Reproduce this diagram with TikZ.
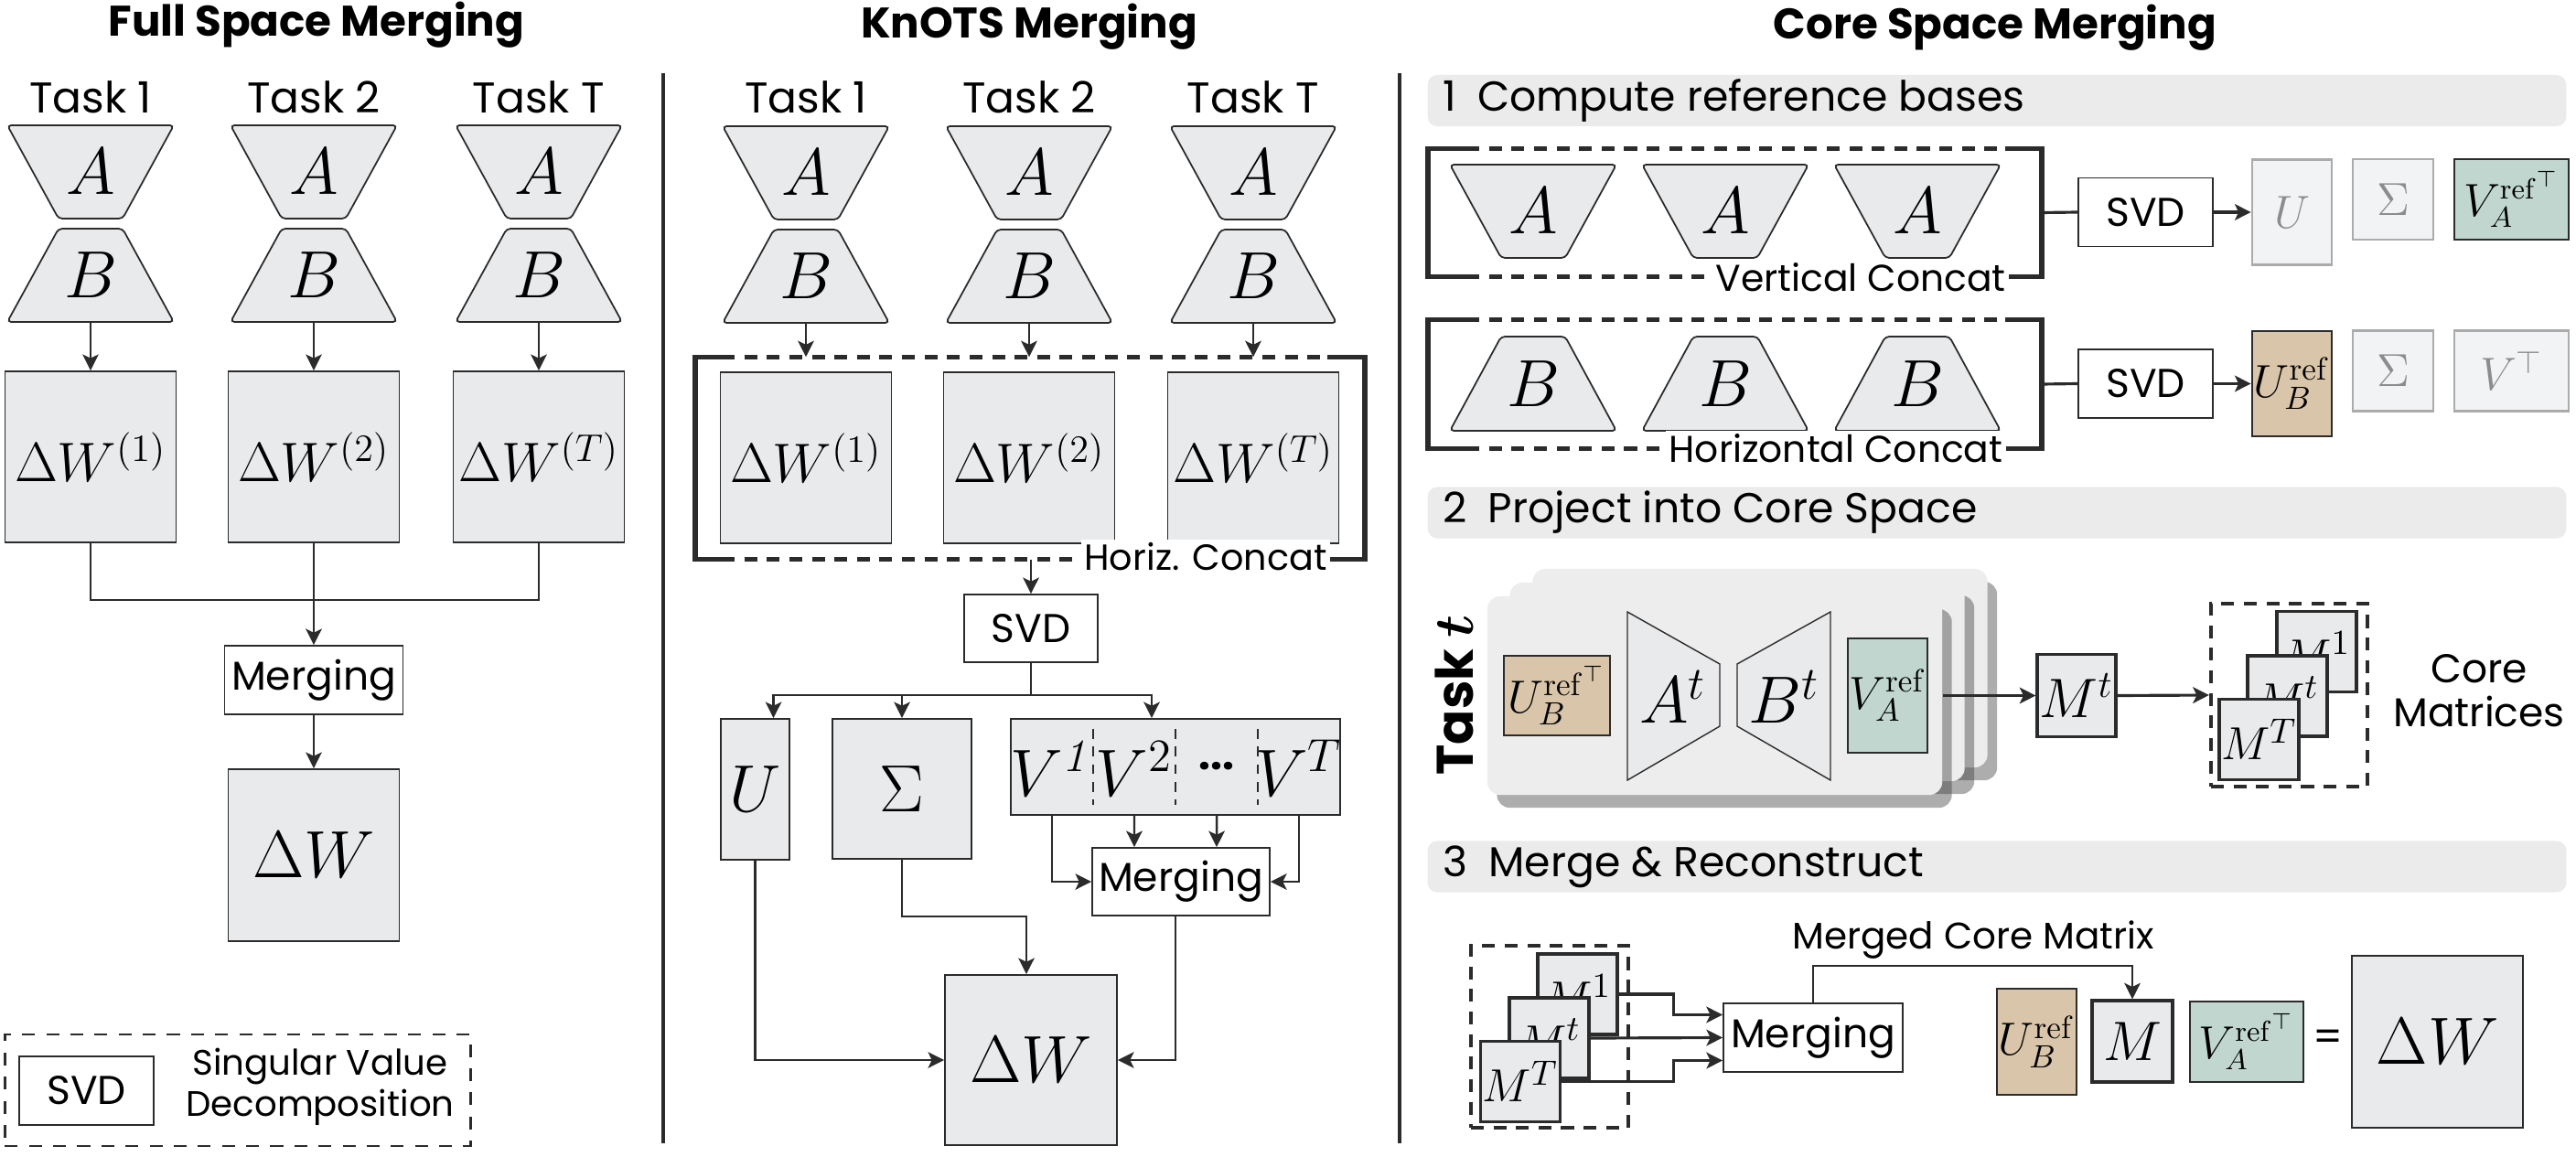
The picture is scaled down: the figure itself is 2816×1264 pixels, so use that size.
\documentclass[tikz,border=0pt]{standalone}
\usepackage{amsmath}
\usepackage{amssymb}
\usepackage[no-math]{fontspec}
\usepackage{tikz}
\usepackage{xcolor}
\usetikzlibrary{calc,arrows.meta,shadows}
\newfontfamily\pop{Poppins}

\definecolor{linec}{HTML}{2B2B2B}
\definecolor{matgray}{HTML}{E9EAEC}
\definecolor{tanc}{HTML}{D9C5A9}
\definecolor{greenc}{HTML}{C0D6CE}
\definecolor{fadefill}{HTML}{F2F3F5}
\definecolor{fadeline}{HTML}{ABABAB}
\definecolor{fadetext}{HTML}{8C8C8C}
\definecolor{headc}{HTML}{EBEBEB}
\definecolor{cardc}{HTML}{EDEDED}

\begin{document}
\begin{tikzpicture}[x=0.01cm,y=-0.01cm]
    % Styles for boxes and lines
    \tikzset{
      box/.style={rectangle, draw=linec, fill=matgray, line width=0.5pt, inner sep=0pt},
      opbox/.style={rectangle, draw=linec, fill=white, line width=0.5pt, inner sep=0pt, font=\pop\fontsize{12.5}{14}\selectfont},
      fadebox/.style={rectangle, draw=fadeline, fill=fadefill, text=fadetext, line width=0.8pt, inner sep=0pt},
      slot/.style={inner sep=0pt, minimum width=1.83cm, minimum height=1.02cm, font=\fontsize{20}{24}\selectfont},
      trap/.style={draw=linec, fill=matgray, line width=0.5pt, rounded corners=1.2pt},
      arrow/.style={line width=0.7pt, draw=linec, -{Stealth[length=5pt,width=5pt,inset=1.2pt]}},
      joinline/.style={line width=0.7pt, draw=linec},
      bracket/.style={line width=1.5pt, draw=linec},
      dashbracket/.style={line width=1.5pt, draw=linec, dash pattern=on 4pt off 3pt},
      coredash/.style={rectangle, draw=linec, line width=1.2pt, dash pattern=on 4pt off 3pt},
      legendbox/.style={rectangle, draw=linec, line width=0.8pt, dash pattern=on 4pt off 3.5pt},
      stackbox/.style={box, line width=0.9pt, minimum width=0.87cm, minimum height=0.88cm, font=\fontsize{15.5}{18}\selectfont},
      header/.style={rectangle, rounded corners=3pt, fill=headc, minimum width=12.44cm, minimum height=0.56cm},
      headtext/.style={anchor=west, inner sep=0pt, font=\pop\fontsize{13}{15}\selectfont},
      paneltitle/.style={font=\pop\bfseries\fontsize{13.3}{16}\selectfont},
      task/.style={font=\pop\fontsize{13.4}{16}\selectfont},
      note/.style={inner sep=1pt, align=center, font=\pop\fontsize{11}{12.8}\selectfont},
      wmath/.style={font=\fontsize{16.5}{19}\selectfont},
      bigmath/.style={font=\fontsize{20.5}{24}\selectfont},
      card/.style={rectangle, rounded corners=4pt, fill=cardc, minimum width=4.97cm, minimum height=2.17cm,
        drop shadow={shadow xshift=3pt, shadow yshift=-4pt, opacity=0.4, fill=black!80}}
    }

    \useasboundingbox (0,0) rectangle (2816,1264);

    % Panel separators
    \draw[line width=1pt, draw=linec] (725,80) -- (725,1250);
    \draw[line width=1pt, draw=linec] (1530,80) -- (1530,1250);

    % ---------------- Full Space Merging ----------------
    \node[paneltitle] (ftitle) at (346,27) {Full Space Merging};
    \foreach \px/\nm/\tk in {99/1/1,343/2/2,589/3/T}{
      \node[task] at (\px,106) {Task \tk};
      \draw[trap] (\px-91,137) -- (\px+91,137) -- (\px+35,239) -- (\px-35,239) -- cycle;
      \draw[trap] (\px-35,250) -- (\px+35,250) -- (\px+91,352) -- (\px-91,352) -- cycle;
      \node[slot] (FA\nm) at (\px,188) {$A$};
      \node[slot] (FB\nm) at (\px,301) {$B$};
      \node[box, wmath, minimum width=1.87cm, minimum height=1.87cm] (FW\nm) at (\px,499.5) {$\Delta W^{(\tk)}$};
      \draw[arrow] (FB\nm) -- (FW\nm);
    }
    \node[opbox, minimum width=1.95cm, minimum height=0.75cm] (fmerge) at (343,743.5) {Merging};
    \node[box, bigmath, minimum width=1.87cm, minimum height=1.88cm] (fdw) at (343,935) {$\Delta W$};
    \draw[joinline] (FW1.south) -- ++(0,62) -| (FW3.south);
    \draw[arrow] (FW2.south) -- (fmerge.north);
    \draw[arrow] (fmerge) -- (fdw);

    % Legend
    \node[legendbox, minimum width=5.09cm, minimum height=1.22cm] (legend) at (260,1192) {};
    \node[opbox, minimum width=1.47cm, minimum height=0.75cm] (lsvd) at (94.5,1192.5) {SVD};
    \node[note] (ltext) at (350,1188) {Singular Value\\Decomposition};

    % ---------------- KnOTS Merging ----------------
    \node[paneltitle] (ktitle) at (1125,29) {KnOTS Merging};
    \node[inner sep=0pt, minimum width=7.30cm, minimum height=2.20cm] (hc) at (1126,501) {};
    \foreach \px/\nm/\tk in {881/1/1,1125/2/2,1370/3/T}{
      \node[task] at (\px,106) {Task \tk};
      \draw[trap] (\px-91,138) -- (\px+91,138) -- (\px+35,240) -- (\px-35,240) -- cycle;
      \draw[trap] (\px-35,251) -- (\px+35,251) -- (\px+91,353) -- (\px-91,353) -- cycle;
      \node[slot] (MA\nm) at (\px,189) {$A$};
      \node[slot] (MB\nm) at (\px,302) {$B$};
      \node[box, wmath, minimum width=1.87cm, minimum height=1.87cm] (MW\nm) at (\px,500.5) {$\Delta W^{(\tk)}$};
      \draw[arrow] (MB\nm.south) -- (MB\nm.south |- hc.north);
    }
    \draw[bracket] ([xshift=0.29cm]hc.north west) -- (hc.north west) -- (hc.south west) -- ([xshift=0.29cm]hc.south west);
    \draw[bracket] ([xshift=-0.41cm]hc.north east) -- (hc.north east) -- (hc.south east) -- ([xshift=-0.41cm]hc.south east);
    \draw[dashbracket] ([xshift=0.29cm]hc.north west) -- ([xshift=-0.41cm]hc.north east);
    \draw[dashbracket] ([xshift=0.29cm]hc.south west) -- ([xshift=-0.41cm]hc.south east);
    \node[note, fill=white, font=\pop\fontsize{11.3}{13}\selectfont] (hclabel) at (1318,609) {Horiz. Concat};

    \node[opbox, minimum width=1.46cm, minimum height=0.74cm] (msvd) at (1127,687) {SVD};
    \draw[arrow] (msvd.north |- hc.south) -- (msvd.north);

    \node[box, bigmath, minimum width=0.75cm, minimum height=1.54cm] (mU) at (825.5,863) {$U$};
    \node[box, bigmath, minimum width=1.52cm, minimum height=1.53cm] (mS) at (986,862.5) {$\Sigma$};
    \node[box, minimum width=3.60cm, minimum height=1.05cm] (mV) at (1285,838.5) {};
    \foreach \px in {1195,1285,1375}
      \draw[line width=0.6pt, draw=linec, dash pattern=on 3pt off 2.5pt] (\px,797) -- (\px,880);
    \node[anchor=base, inner sep=0pt, bigmath] (v1) at (1150,870) {$V^{\mathit{1}}$};
    \node[anchor=base, inner sep=0pt, bigmath] (v2) at (1240,870) {$V^{2}$};
    \node[inner sep=0pt, font=\pop\bfseries\fontsize{13}{14}\selectfont] (vdots) at (1330,838) {...};
    \node[anchor=base, inner sep=0pt, bigmath] (vT) at (1420,870) {$V^{T}$};

    \draw[joinline] (msvd.south) -- ++(0,35) coordinate (branch);
    \draw[arrow] (branch) -| ([xshift=0.2cm]mU.north);
    \draw[arrow] (branch) -| (mS.north);
    \draw[arrow] (branch) -| ([xshift=-0.26cm]mV.north);

    \node[opbox, minimum width=1.94cm, minimum height=0.74cm] (mmerge) at (1291,964) {Merging};
    \draw[arrow] ([xshift=-1.35cm]mV.south) |- (mmerge.west);
    \draw[arrow] ([xshift=-0.45cm]mV.south) -- ([xshift=-0.51cm]mmerge.north);
    \draw[arrow] ([xshift=0.45cm]mV.south) -- ([xshift=0.39cm]mmerge.north);
    \draw[arrow] ([xshift=1.35cm]mV.south) |- (mmerge.east);

    \node[box, bigmath, minimum width=1.88cm, minimum height=1.86cm] (mdw) at (1127,1159) {$\Delta W$};
    \draw[arrow] (mU.south) |- (mdw.west);
    \draw[arrow] (mS.south) -- ++(0,62) -| ([xshift=-0.05cm]mdw.north);
    \draw[arrow] ([xshift=-0.06cm]mmerge.south) |- (mdw.east);

    % ---------------- Core Space Merging ----------------
    \node[paneltitle] (ctitle) at (2181,30) {Core Space Merging};
    \node[header] (hd1) at (2183,110) {};
    \node[headtext] at ([xshift=0.17cm]hd1.west) {1\enspace Compute reference bases};
    \node[header] (hd2) at (2183,560.5) {};
    \node[headtext] at ([xshift=0.17cm]hd2.west) {2\enspace Project into Core Space};
    \node[header] (hd3) at (2183,947.5) {};
    \node[headtext] at ([xshift=0.17cm]hd3.west) {3\enspace Merge \& Reconstruct};

    % Step 1: reference bases
    \node[inner sep=0pt, minimum width=6.69cm, minimum height=1.39cm] (vcat) at (1896.5,232.5) {};
    \node[inner sep=0pt, minimum width=6.69cm, minimum height=1.40cm] (hcat) at (1896.5,420) {};
    \foreach \cat in {vcat,hcat}{
      \draw[bracket] ([xshift=0.42cm]\cat.north west) -- (\cat.north west) -- (\cat.south west) -- ([xshift=0.42cm]\cat.south west);
      \draw[bracket] ([xshift=-0.40cm]\cat.north east) -- (\cat.north east) -- (\cat.south east) -- ([xshift=-0.40cm]\cat.south east);
      \draw[dashbracket] ([xshift=0.42cm]\cat.north west) -- ([xshift=-0.40cm]\cat.north east);
      \draw[dashbracket] ([xshift=0.42cm]\cat.south west) -- ([xshift=-0.40cm]\cat.south east);
    }
    \foreach \px/\nm in {1676/1,1886/2,2096/3}{
      \draw[trap] (\px-91,180) -- (\px+91,180) -- (\px+35,282) -- (\px-35,282) -- cycle;
      \draw[trap] (\px-35,368) -- (\px+35,368) -- (\px+91,471) -- (\px-91,471) -- cycle;
      \node[slot] (CA\nm) at (\px,231) {$A$};
      \node[slot] (CB\nm) at (\px,419.5) {$B$};
    }
    \node[note, fill=white, font=\pop\fontsize{11.6}{13}\selectfont] (vclabel) at (2034,303) {Vertical Concat};
    \node[note, fill=white, font=\pop\fontsize{11.6}{13}\selectfont] (hclabel2) at (2007,490) {Horizontal Concat};

    \node[opbox, minimum width=1.47cm, minimum height=0.75cm] (svd1) at (2345.5,232) {SVD};
    \node[opbox, minimum width=1.47cm, minimum height=0.75cm] (svd2) at (2345.5,419.5) {SVD};
    \node[fadebox, minimum width=0.87cm, minimum height=1.15cm, font=\fontsize{14.5}{16}\selectfont] (sU) at (2505.5,232) {$U$};
    \node[fadebox, minimum width=0.88cm, minimum height=0.88cm, font=\fontsize{14.5}{16}\selectfont] (sS) at (2616,218) {$\Sigma$};
    \node[box, fill=greenc, line width=0.8pt, minimum width=1.25cm, minimum height=0.88cm, font=\fontsize{13.5}{16}\selectfont] (sVA) at (2745.5,218) {$V_A^{\mathrm{ref}^{\top}}$};
    \node[box, fill=tanc, line width=0.8pt, minimum width=0.87cm, minimum height=1.15cm, font=\fontsize{14}{16}\selectfont] (sUB) at (2505.5,419.5) {$U_B^{\mathrm{ref}}$};
    \node[fadebox, minimum width=0.88cm, minimum height=0.88cm, font=\fontsize{14.5}{16}\selectfont] (sS2) at (2616,405.5) {$\Sigma$};
    \node[fadebox, minimum width=1.25cm, minimum height=0.88cm, font=\fontsize{14.5}{16}\selectfont] (sV2) at (2745.5,405.5) {$V^{\top}$};
    \draw[line width=0.9pt, draw=linec] (vcat.east) -- (svd1.west);
    \draw[line width=0.9pt, draw=linec] (hcat.east) -- (svd2.west);
    \draw[arrow, line width=0.9pt] (svd1.east) -- (sU.west);
    \draw[arrow, line width=0.9pt] (svd2.east) -- (sUB.west);

    % Step 2: project every task
    \node[card] (card3) at (1924,730.5) {};
    \node[card] (card2) at (1899,745.5) {};
    \node[card] (card1) at (1874.5,760.5) {};
    \node[rotate=90, font=\pop\bfseries\fontsize{16}{18}\selectfont] (taskt) at (1590,760) {Task {\boldmath$t$}};
    \node[box, fill=tanc, minimum width=1.16cm, minimum height=0.87cm, font=\fontsize{14}{16}\selectfont] (cUB) at (1702,760.5) {$U_B^{\mathrm{ref}^{\top}}$};
    \draw[box, line width=0.4pt] (1779,669) -- (1880,726) -- (1880,794) -- (1779,853) -- cycle;
    \draw[box, line width=0.4pt] (1899,726) -- (2001,669) -- (2001,853) -- (1899,794) -- cycle;
    \node[font=\fontsize{20}{24}\selectfont] (cA) at (1829,762) {$A^t$};
    \node[font=\fontsize{20}{24}\selectfont] (cB) at (1950,762) {$B^t$};
    \node[box, fill=greenc, minimum width=0.87cm, minimum height=1.25cm, font=\fontsize{14}{16}\selectfont] (cVA) at (2063.5,760.5) {$V_A^{\mathrm{ref}}$};

    \node[stackbox, minimum width=0.86cm, minimum height=0.90cm, font=\fontsize{16.5}{19}\selectfont] (Mt) at (2270,760.5) {$M^t$};
    \node[coredash, minimum width=1.71cm, minimum height=2.0cm] (core2) at (2502.5,760) {};
    \node[stackbox] (pM1) at (2532.5,712.5) {$M^1$};
    \node[stackbox] (pMt) at (2500.5,761) {$M^t$};
    \node[stackbox] (pMT) at (2469.5,808.5) {$M^T$};
    \draw[arrow, line width=0.9pt] (card1.east) -- (Mt.west);
    \draw[arrow, line width=0.9pt] (Mt.east) -- (core2.west);
    \node[note, font=\pop\fontsize{12.5}{13.5}\selectfont] (corelbl) at (2710,755) {Core\\Matrices};

    % Step 3: merge and rebuild
    \node[coredash, minimum width=1.72cm, minimum height=1.99cm] (core3) at (1694,1133.5) {};
    \node[stackbox] (rM1) at (1724.5,1087) {$M^1$};
    \node[stackbox] (rMt) at (1693.5,1135) {$M^t$};
    \node[stackbox] (rMT) at (1662,1182.5) {$M^T$};
    \node[opbox, minimum width=1.96cm, minimum height=0.75cm] (rmerge) at (1982,1134.5) {Merging};
    \draw[arrow, line width=0.9pt] (rM1.east) -- ++(60,0) |- ([yshift=0.25cm]rmerge.west);
    \draw[arrow, line width=0.9pt] (rMt.east) -- (rmerge.west);
    \draw[arrow, line width=0.9pt] (rMT.east) -- ++(122,0) |- ([yshift=-0.25cm]rmerge.west);

    \node[box, fill=tanc, minimum width=0.87cm, minimum height=1.16cm, font=\fontsize{14}{16}\selectfont] (rUB) at (2226.5,1139) {$U_B^{\mathrm{ref}}$};
    \node[stackbox, minimum width=0.88cm, minimum height=0.89cm, font=\fontsize{17}{20}\selectfont] (rM) at (2331,1138.5) {$M$};
    \node[box, fill=greenc, minimum width=1.24cm, minimum height=0.88cm, font=\fontsize{13.5}{16}\selectfont] (rVA) at (2456,1139) {$V_A^{\mathrm{ref}^{\top}}$};
    \node[font=\pop\fontsize{13}{15}\selectfont] (eq) at (2545,1138) {=};
    \node[box, bigmath, minimum width=1.87cm, minimum height=1.88cm] (rdw) at (2664.5,1139) {$\Delta W$};
    \draw[arrow] (rmerge.north) -- ++(0,-40) -| (rM.north);
    \node[note, font=\pop\fontsize{11.5}{13}\selectfont] (mcm) at (2157,1028) {Merged Core Matrix};

\end{tikzpicture}
\end{document}
